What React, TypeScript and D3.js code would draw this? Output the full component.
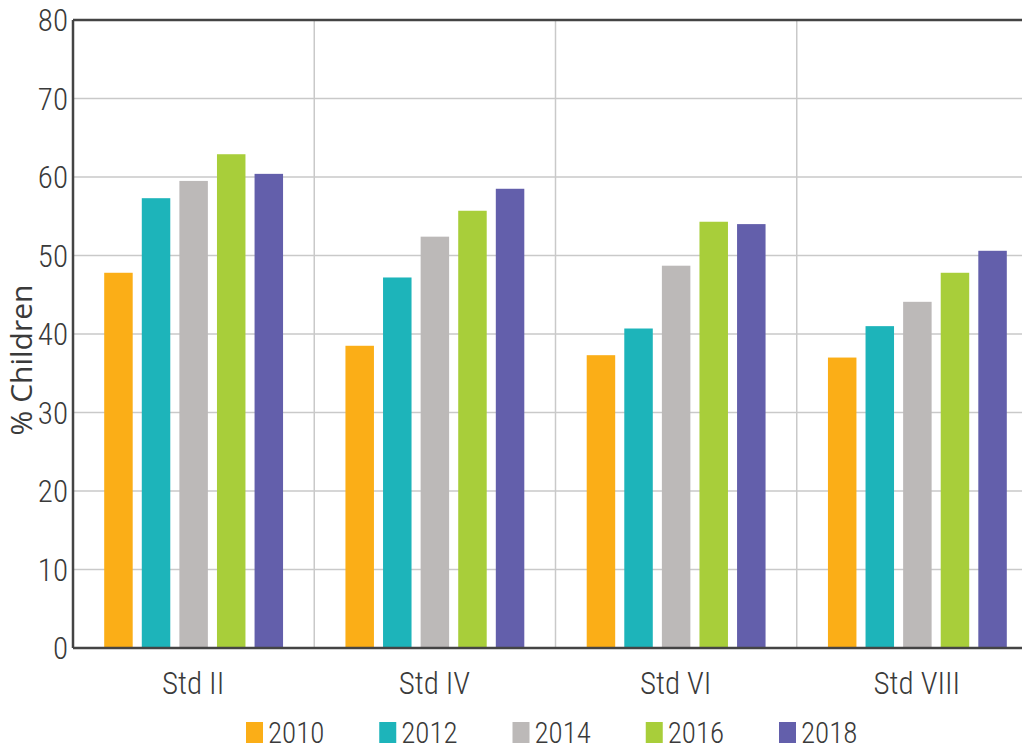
import React from "react";
import * as d3 from "d3";

const categories = ["Std II", "Std IV", "Std VI", "Std VIII"];
const years = ["2010", "2012", "2014", "2016", "2018"];
const values2010 = [47.8, 38.5, 37.3, 37.0];
const values2012 = [57.3, 47.2, 40.7, 41.0];
const values2014 = [59.5, 52.4, 48.7, 44.1];
const values2016 = [62.9, 55.7, 54.3, 47.8];
const values2018 = [60.4, 58.5, 54.0, 50.6];
const yTicks = [0, 10, 20, 30, 40, 50, 60, 70, 80];
const colors = ["#FBAE17", "#1DB4BA", "#BCB9B8", "#A8CE3A", "#635FAB"];

const series = [values2010, values2012, values2014, values2016, values2018];

const W = 1022;
const H = 749;
const left = 73;
const right = 1038;
const top = 20;
const bottom = 648;
const textColor = "#3a3a3a";
const condensed = "'Roboto Condensed', 'Liberation Sans Narrow', 'Arial Narrow', sans-serif";

export default function App() {
  const x0 = d3.scaleBand<string>().domain(categories).range([left, right]).paddingInner(0).paddingOuter(0);
  const x1 = d3
    .scaleBand<string>()
    .domain(years)
    .range([0, x0.bandwidth()])
    .paddingInner(0.242)
    .paddingOuter(0.83);
  const y = d3.scaleLinear().domain([0, 80]).range([bottom, top]);

  const legendX = d3.scalePoint<string>().domain(years).range([246, 779]);

  return (
    <svg
      width={W}
      height={H}
      style={{ position: "fixed", left: 0, top: 0, background: "#fff" }}
    >
      {/* horizontal gridlines */}
      {yTicks.map((t) => (
        <line key={"g" + t} x1={left} x2={W} y1={y(t)} y2={y(t)} stroke="#c9c9c9" strokeWidth={1.5} />
      ))}
      {/* vertical separators */}
      {categories.slice(1).map((c) => (
        <line key={"v" + c} x1={x0(c)!} x2={x0(c)!} y1={top} y2={bottom} stroke="#c9c9c9" strokeWidth={1.5} />
      ))}
      {/* bars */}
      {categories.map((c, ci) => (
        <g key={c} transform={`translate(${x0(c)},0)`}>
          {years.map((yr, si) => (
            <rect
              key={yr}
              x={x1(yr)!}
              y={y(series[si][ci])}
              width={x1.bandwidth()}
              height={y(0) - y(series[si][ci])}
              fill={colors[si]}
            />
          ))}
        </g>
      ))}
      {/* frame */}
      <line x1={left} x2={W} y1={top} y2={top} stroke="#444" strokeWidth={2.5} />
      <line x1={left} x2={left} y1={top} y2={bottom} stroke="#444" strokeWidth={2.5} />
      <line x1={left} x2={W} y1={bottom} y2={bottom} stroke="#444" strokeWidth={2.5} />
      {/* y ticks */}
      {yTicks.map((t) => (
        <text
          key={"t" + t}
          x={68}
          y={y(t)}
          dy="0.36em"
          textAnchor="end"
          fontFamily={condensed}
          fontWeight={300}
          fontSize={31}
          fill={textColor}
        >
          {t}
        </text>
      ))}
      {/* y title */}
      <text
        transform={`translate(32,360) rotate(-90)`}
        textAnchor="middle"
        fontFamily="'Open Sans', 'Noto Sans', sans-serif"
        fontSize={30}
        fill={textColor}
      >
        % Children
      </text>
      {/* category labels */}
      {categories.map((c) => (
        <text
          key={"c" + c}
          x={x0(c)! + x0.bandwidth() / 2 - 0.5}
          y={694}
          textAnchor="middle"
          fontFamily={condensed}
          fontWeight={300}
          fontSize={31}
          fill={textColor}
        >
          {c}
        </text>
      ))}
      {/* legend */}
      {years.map((yr, i) => (
        <g key={"l" + yr} transform={`translate(${legendX(yr)},722)`}>
          <rect x={0} y={0} width={17} height={21} fill={colors[i]} />
          <text x={22} y={21} fontFamily={condensed} fontWeight={300} fontSize={29} fill={textColor}>
            {yr}
          </text>
        </g>
      ))}
    </svg>
  );
}
